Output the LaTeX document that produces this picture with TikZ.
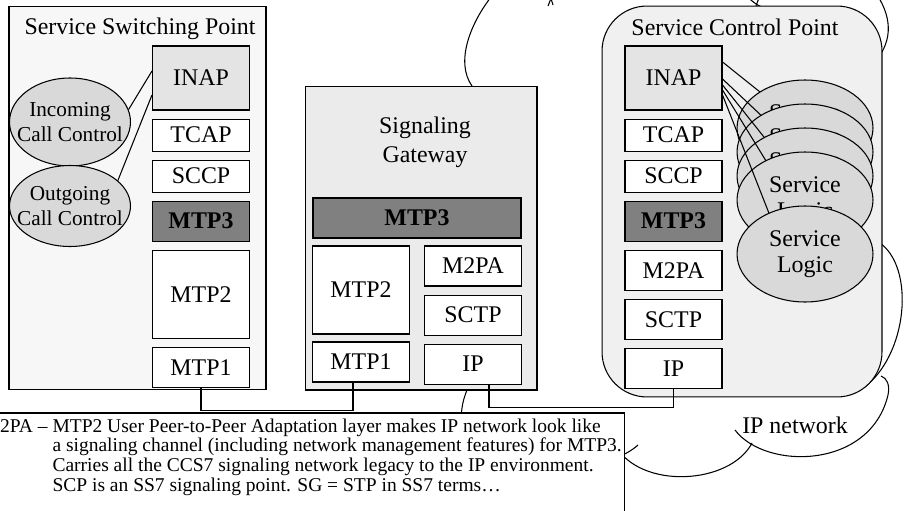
\documentclass[tikz,border=0pt]{standalone}
\usepackage{fontspec}
\setmainfont{Liberation Serif}
\usetikzlibrary{calc,positioning,shapes.geometric}

\definecolor{sspgray}{HTML}{F7F7F7}
\definecolor{sggray}{HTML}{EBEBEB}
\definecolor{scpgray}{HTML}{F0F0F0}
\definecolor{inapgray}{HTML}{E4E4E4}
\definecolor{mtpgray}{HTML}{808080}
\definecolor{ellgray}{HTML}{D9D9D9}

\begin{document}
\begin{tikzpicture}[x=0.02cm,y=-0.02cm,line width=0.6pt,
	font=\fontsize{13.6}{15}\selectfont,
	layer/.style={draw,fill=white,inner sep=0pt,minimum width=1.94cm,minimum height=#1},
	layer/.default=0.8cm,
	inap/.style={layer=1.28cm,fill=inapgray},
	mtpthree/.style={layer=0.8cm,fill=mtpgray,font=\fontsize{13.6}{15}\selectfont\bfseries},
	callctl/.style={ellipse,draw,fill=ellgray,inner sep=0pt,minimum width=2.42cm},
	logic/.style={ellipse,draw,fill=ellgray,inner sep=0pt,minimum width=2.72cm,
		minimum height=1.92cm,align=center}]
	    % Setup some coordinates:
	    \def\sspx{201}
	    \def\sgl{361}
	    \def\sgr{473}
	    \def\scpx{673.5}
	    \def\gap{0.16cm}

	    \useasboundingbox (0,0) rectangle (908,510);
	    \clip (0,0) rectangle (908,510);

	    % Draw the IP network cloud (behind everything)
	    \draw (495,-8) .. controls (470,22) and (455,62) .. (472,86)
		-- (467,390) .. controls (463,400) and (461,408) .. (461,425)
		.. controls (540,480) and (610,470) .. (638,445)
		(615,445) .. controls (640,490) and (730,485) .. (752,443)
		(735,430) .. controls (765,470) and (870,470) .. (888,395)
		.. controls (890,385) and (887,378) .. (881,376)
		(866,386) .. controls (910,350) and (915,260) .. (875,240)
		-- (878,58) .. controls (895,35) and (890,10) .. (870,-15)
		.. controls (840,-60) and (770,-40) .. (756,6)
		(766,8) .. controls (740,5) and (720,-60) .. (650,-60)
		.. controls (580,-60) and (560,-25) .. (548,6)
		(553,5) .. controls (540,-40) and (505,-40) .. (495,-8);
	    \node (ipnet) at (795,425) {IP network};

	    % Service switching point
	    \node[draw,fill=sspgray,minimum width=5.14cm,minimum height=7.68cm] (ssp) at (137.5,198) {};
	    \node (ssp-title) at (140,29) {Service Switching Point};
	    \node[inap] (ssp-inap) at (\sspx,78) {INAP};
	    \node[layer=0.64cm,below=\gap of ssp-inap] (ssp-tcap) {TCAP};
	    \node[layer=0.64cm,below=\gap of ssp-tcap] (ssp-sccp) {SCCP};
	    \node[mtpthree,below=\gap of ssp-sccp] (ssp-mtp3) {MTP3};
	    \node[layer=1.76cm,below=\gap of ssp-mtp3] (ssp-mtp2) {MTP2};
	    \node[layer,below=\gap of ssp-mtp2] (ssp-mtp1) {MTP1};

	    \node[callctl,minimum height=1.76cm,
		label={[align=center,font=\fontsize{12.1}{14.7}\selectfont]center:Incoming\\Call Control}]
		(incoming) at (70,122) {};
	    \node[callctl,minimum height=1.62cm,
		label={[align=center,font=\fontsize{12.1}{14.7}\selectfont]center:Outgoing\\Call Control}]
		(outgoing) at (70,206) {};
	    \draw ($(ssp-inap.west)+(0,-7)$) -- (incoming.12);
	    \draw ($(ssp-inap.west)+(0,17)$) -- (outgoing.28);

	    % Signaling gateway
	    \node[draw,fill=sggray,minimum width=4.64cm,minimum height=6.08cm] (sg) at (421,238) {};
	    \node[align=center,font=\fontsize{13.6}{16.4}\selectfont] (sg-title) at (425,142) {Signaling\\Gateway};
	    \node[mtpthree,minimum width=4.16cm] (sg-mtp3) at (417,218) {MTP3};
	    \node[layer=1.76cm] (sg-mtp2) at (\sgl,290) {MTP2};
	    \node[layer] (sg-mtp1) at (\sgl,362) {MTP1};
	    \node[layer] (sg-m2pa) at (\sgr,266) {M2PA};
	    \node[layer,below=\gap of sg-m2pa] (sg-sctp) {SCTP};
	    \node[layer,below=\gap of sg-sctp] (sg-ip) {IP};

	    % Service control point
	    \node[draw,fill=scpgray,rounded corners=0.9cm,minimum width=5.6cm,minimum height=7.82cm] (scp) at (742,201.5) {};
	    \node (scp-title) at (735,27) {Service Control Point};
	    \node[inap] (scp-inap) at (\scpx,78) {INAP};
	    \node[layer=0.64cm,below=\gap of scp-inap] (scp-tcap) {TCAP};
	    \node[layer=0.64cm,below=\gap of scp-tcap] (scp-sccp) {SCCP};
	    \node[mtpthree,below=\gap of scp-sccp] (scp-mtp3) {MTP3};
	    \node[layer,below=\gap of scp-mtp3] (scp-m2pa) {M2PA};
	    \node[layer,below=\gap of scp-m2pa] (scp-sctp) {SCTP};
	    \node[layer,below=\gap of scp-sctp] (scp-ip) {IP};

	    % Stack of service logic instances
	    \foreach \k/\cy/\sy in {1/128/-16,2/152/1,3/176/7,4/200/12,5/254/17} {
		\coordinate (sl-c\k) at (805,\cy);
		\draw ($(scp-inap.east)+(0,\sy)$) -- ($(sl-c\k)+({-5*(\k-1)},0)$);
		\node[logic] (sl-\k) at (sl-c\k) {Service\\Logic};
	    }

	    % Links between the nodes
	    \coordinate (sg-mtp1-tap) at ($(sg-mtp1.south)+(-8,0)$);
	    \coordinate (sg-ip-tap) at ($(sg-ip.south)+(16,0)$);
	    \draw (ssp-mtp1.south) -- ++(0,23) -| (sg-mtp1-tap);
	    \draw (sg-ip-tap) -- ++(0,23) -| (scp-ip.south);

	    % Finally, the note
	    \node[draw,fill=white,minimum width=12.6cm,minimum height=2.34cm] (note) at (310,471.5) {};
	    \node[anchor=north west,align=left,inner sep=0pt,font=\fontsize{11.1}{11.2}\selectfont]
		(note-text) at (52,418)
		{\llap{M2PA -- }MTP2 User Peer-to-Peer Adaptation layer makes IP network look like\\
		a signaling channel (including network management features) for MTP3.\\
		Carries all the CCS7 signaling network legacy to the IP environment.\\
		SCP is an SS7 signaling point. SG = STP in SS7 terms…};
	\end{tikzpicture}
\end{document}
